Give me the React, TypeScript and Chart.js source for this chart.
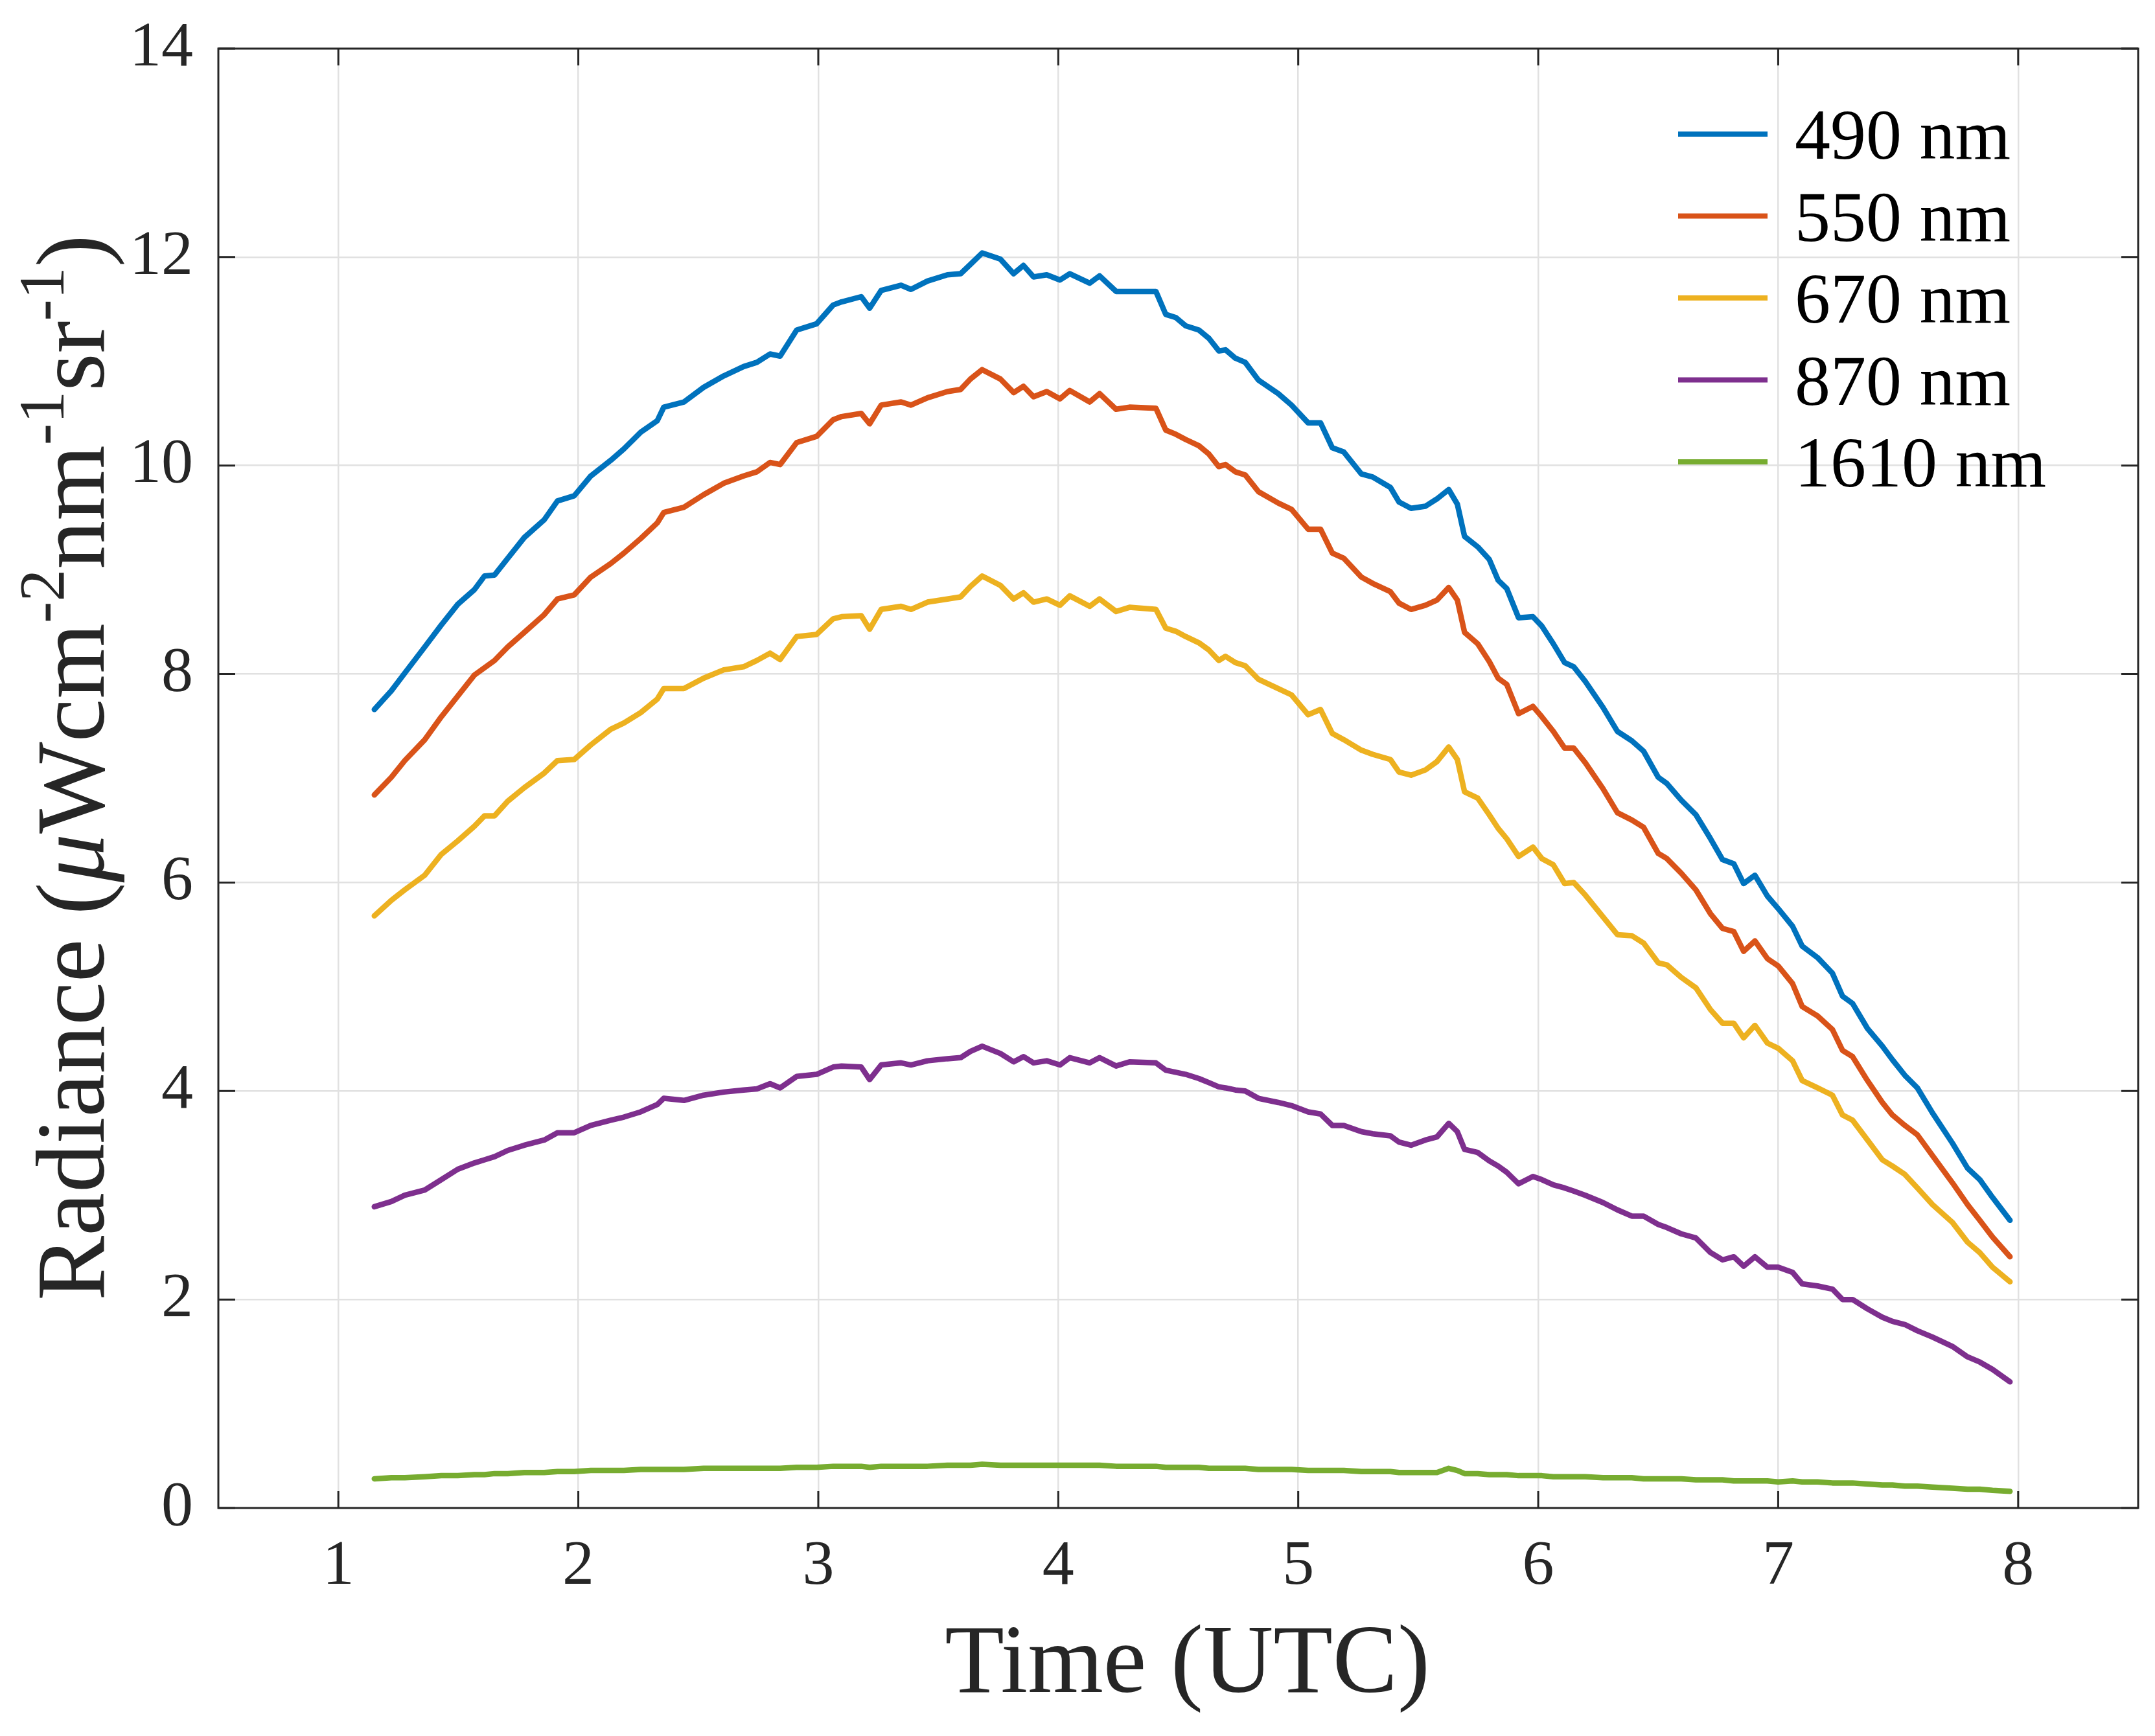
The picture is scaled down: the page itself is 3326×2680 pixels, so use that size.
import React, { useEffect, useRef } from "react";
import { Chart, registerables } from "chart.js";

Chart.register(...registerables);

// ---------- data ----------
const timeUTC = [
  1.150, 1.221, 1.277, 1.360, 1.429, 1.498, 1.567, 1.609, 1.651, 1.706,
  1.775, 1.858, 1.913, 1.983, 2.052, 2.135, 2.190, 2.260, 2.329, 2.356,
  2.440, 2.522, 2.606, 2.689, 2.744, 2.799, 2.841, 2.910, 2.993, 3.062,
  3.097, 3.179, 3.214, 3.262, 3.345, 3.386, 3.455, 3.538, 3.593, 3.634,
  3.683, 3.759, 3.814, 3.855, 3.897, 3.952, 4.007, 4.048, 4.131, 4.172,
  4.241, 4.297, 4.407, 4.448, 4.490, 4.531, 4.586, 4.628, 4.669, 4.697,
  4.738, 4.779, 4.834, 4.917, 4.972, 5.041,
  5.093, 5.142, 5.190, 5.263, 5.310, 5.384, 5.420, 5.470, 5.530, 5.578,
  5.627, 5.663, 5.693, 5.748, 5.796, 5.833, 5.869, 5.918, 5.978, 6.015,
  6.063, 6.110, 6.148, 6.196, 6.270, 6.330, 6.390, 6.439, 6.500, 6.536,
  6.596, 6.657, 6.718,
  6.768, 6.815, 6.856, 6.903, 6.955, 7.000, 7.060, 7.100, 7.164, 7.226,
  7.268, 7.310, 7.372, 7.434, 7.476, 7.528, 7.580, 7.643, 7.726, 7.789,
  7.840, 7.893, 7.966,
];

const rad490 = [
  7.66, 7.84, 8.01, 8.26, 8.47, 8.67, 8.81, 8.94, 8.95, 9.11,
  9.31, 9.48, 9.66, 9.71, 9.90, 10.05, 10.16, 10.32, 10.43, 10.56,
  10.61, 10.75, 10.86, 10.95, 10.99, 11.07, 11.05, 11.30, 11.36, 11.54,
  11.57, 11.62, 11.51, 11.68, 11.73, 11.69, 11.77, 11.83, 11.84, 11.93,
  12.04, 11.98, 11.84, 11.92, 11.81, 11.83, 11.78, 11.84, 11.75, 11.82,
  11.67, 11.67, 11.67, 11.45, 11.42, 11.34, 11.30, 11.22, 11.10, 11.11,
  11.03, 10.99, 10.82, 10.69, 10.58, 10.41,
  10.41, 10.17, 10.13, 9.92, 9.89, 9.79, 9.65, 9.59, 9.61, 9.68,
  9.77, 9.63, 9.32, 9.22, 9.10, 8.90, 8.82, 8.54, 8.55, 8.46,
  8.29, 8.11, 8.07, 7.93, 7.68, 7.45, 7.36, 7.26, 7.01, 6.95,
  6.79, 6.65, 6.42,
  6.22, 6.18, 5.99, 6.07, 5.87, 5.75, 5.58, 5.39, 5.28, 5.13,
  4.91, 4.84, 4.60, 4.43, 4.30, 4.15, 4.03, 3.79, 3.50, 3.26,
  3.15, 2.98, 2.76,
];

const rad550 = [
  6.84, 7.01, 7.17, 7.37, 7.59, 7.79, 7.99, 8.06, 8.13, 8.26,
  8.40, 8.57, 8.72, 8.76, 8.93, 9.06, 9.16, 9.30, 9.45, 9.55,
  9.60, 9.72, 9.83, 9.90, 9.94, 10.03, 10.01, 10.22, 10.28, 10.44,
  10.47, 10.50, 10.40, 10.58, 10.61, 10.58, 10.65, 10.71, 10.73, 10.83,
  10.92, 10.83, 10.70, 10.76, 10.66, 10.71, 10.64, 10.72, 10.61, 10.69,
  10.54, 10.56, 10.55, 10.34, 10.30, 10.25, 10.19, 10.11, 9.99, 10.01,
  9.94, 9.91, 9.75, 9.64, 9.58, 9.39,
  9.39, 9.16, 9.11, 8.93, 8.87, 8.79, 8.68, 8.62, 8.66, 8.71,
  8.83, 8.71, 8.40, 8.29, 8.12, 7.96, 7.90, 7.62, 7.69, 7.59,
  7.45, 7.29, 7.29, 7.15, 6.90, 6.67, 6.60, 6.53, 6.28, 6.23,
  6.09, 5.93, 5.70,
  5.56, 5.53, 5.34, 5.44, 5.27, 5.20, 5.03, 4.81, 4.72, 4.59,
  4.39, 4.33, 4.10, 3.89, 3.77, 3.67, 3.58, 3.38, 3.12, 2.91,
  2.76, 2.60, 2.41,
];

const rad670 = [
  5.68, 5.83, 5.93, 6.07, 6.27, 6.40, 6.54, 6.64, 6.64, 6.78,
  6.91, 7.05, 7.17, 7.18, 7.32, 7.47, 7.53, 7.63, 7.76, 7.86,
  7.86, 7.96, 8.04, 8.07, 8.13, 8.20, 8.14, 8.36, 8.38, 8.53,
  8.55, 8.56, 8.43, 8.62, 8.65, 8.62, 8.69, 8.72, 8.74, 8.84,
  8.94, 8.85, 8.72, 8.78, 8.69, 8.72, 8.66, 8.75, 8.65, 8.72,
  8.60, 8.64, 8.62, 8.44, 8.41, 8.36, 8.30, 8.23, 8.13, 8.17,
  8.11, 8.08, 7.95, 7.86, 7.80, 7.61,
  7.66, 7.43, 7.37, 7.27, 7.23, 7.18, 7.06, 7.03, 7.08, 7.16,
  7.30, 7.18, 6.87, 6.81, 6.65, 6.52, 6.42, 6.25, 6.34, 6.23,
  6.17, 5.99, 6.00, 5.88, 5.67, 5.50, 5.49, 5.42, 5.23, 5.21,
  5.09, 4.99, 4.78,
  4.65, 4.65, 4.51, 4.63, 4.46, 4.41, 4.29, 4.10, 4.03, 3.96,
  3.77, 3.72, 3.53, 3.34, 3.28, 3.20, 3.07, 2.91, 2.74, 2.55,
  2.45, 2.31, 2.17,
];

const rad870 = [
  2.89, 2.94, 3.00, 3.05, 3.15, 3.25, 3.31, 3.34, 3.37, 3.43,
  3.48, 3.53, 3.60, 3.60, 3.67, 3.72, 3.75, 3.80, 3.87, 3.93,
  3.91, 3.96, 3.99, 4.01, 4.02, 4.07, 4.03, 4.14, 4.16, 4.23,
  4.24, 4.23, 4.11, 4.25, 4.27, 4.25, 4.29, 4.31, 4.32, 4.38,
  4.43, 4.36, 4.28, 4.33, 4.27, 4.29, 4.25, 4.32, 4.27, 4.32,
  4.24, 4.28, 4.27, 4.20, 4.18, 4.16, 4.12, 4.08, 4.04, 4.03,
  4.01, 4.00, 3.93, 3.89, 3.86, 3.80,
  3.78, 3.67, 3.67, 3.61, 3.59, 3.57, 3.51, 3.48, 3.53, 3.56,
  3.69, 3.61, 3.44, 3.41, 3.33, 3.28, 3.22, 3.11, 3.18, 3.15,
  3.10, 3.07, 3.04, 3.00, 2.93, 2.86, 2.80, 2.80, 2.72, 2.69,
  2.63, 2.59, 2.45,
  2.38, 2.41, 2.32, 2.41, 2.31, 2.31, 2.26, 2.15, 2.13, 2.10,
  2.00, 2.00, 1.91, 1.83, 1.79, 1.76, 1.70, 1.64, 1.55, 1.45,
  1.40, 1.33, 1.21,
];

const rad1610 = [
  0.28, 0.29, 0.29, 0.30, 0.31, 0.31, 0.32, 0.32, 0.33, 0.33,
  0.34, 0.34, 0.35, 0.35, 0.36, 0.36, 0.36, 0.37, 0.37, 0.37,
  0.37, 0.38, 0.38, 0.38, 0.38, 0.38, 0.38, 0.39, 0.39, 0.40,
  0.40, 0.40, 0.39, 0.40, 0.40, 0.40, 0.40, 0.41, 0.41, 0.41,
  0.42, 0.41, 0.41, 0.41, 0.41, 0.41, 0.41, 0.41, 0.41, 0.41,
  0.40, 0.40, 0.40, 0.39, 0.39, 0.39, 0.39, 0.38, 0.38, 0.38,
  0.38, 0.38, 0.37, 0.37, 0.37, 0.36,
  0.36, 0.36, 0.36, 0.35, 0.35, 0.35, 0.34, 0.34, 0.34, 0.34,
  0.38, 0.36, 0.33, 0.33, 0.32, 0.32, 0.32, 0.31, 0.31, 0.31,
  0.30, 0.30, 0.30, 0.30, 0.29, 0.29, 0.29, 0.28, 0.28, 0.28,
  0.28, 0.27, 0.27,
  0.27, 0.26, 0.26, 0.26, 0.26, 0.25, 0.26, 0.25, 0.25, 0.24,
  0.24, 0.24, 0.23, 0.22, 0.22, 0.21, 0.21, 0.20, 0.19, 0.18,
  0.18, 0.17, 0.16,
];

const seriesLabels = ["490 nm", "550 nm", "670 nm", "870 nm", "1610 nm"];
const seriesColors = ["#0072BD", "#D95319", "#EDB120", "#7E2F8E", "#77AC30"];
const seriesValues = [rad490, rad550, rad670, rad870, rad1610];

const xTickValues = [1, 2, 3, 4, 5, 6, 7, 8];
const yTickValues = [0, 2, 4, 6, 8, 10, 12, 14];

const xTitle = "Time (UTC)";

// ---------- styling ----------
const W = 3326;
const H = 2680;
const PLOT_LEFT = 337;
const PLOT_TOP = 75;
const PLOT_RIGHT = 3300;
const PLOT_BOTTOM = 2328;
const FONT = "'Liberation Serif', 'Times New Roman', serif";
const TEXT = "#262626";
const AXIS = "#262626";
const GRID = "#e1e1e1";

const framePlugin = {
  id: "matlabFrame",
  afterDatasetsDraw(chart: any) {
    const { ctx, chartArea, scales } = chart;
    const { left, right, top, bottom } = chartArea;
    const x = scales.x;
    const y = scales.y;
    ctx.save();
    ctx.strokeStyle = AXIS;
    ctx.lineWidth = 3;
    const tl = 26;
    ctx.beginPath();
    xTickValues.forEach((v) => {
      const px = x.getPixelForValue(v);
      ctx.moveTo(px, bottom);
      ctx.lineTo(px, bottom - tl);
      ctx.moveTo(px, top);
      ctx.lineTo(px, top + tl);
    });
    yTickValues.forEach((v) => {
      const py = y.getPixelForValue(v);
      ctx.moveTo(left, py);
      ctx.lineTo(left + tl, py);
      ctx.moveTo(right, py);
      ctx.lineTo(right - tl, py);
    });
    ctx.stroke();
    ctx.strokeRect(left, top, right - left, bottom - top);
    ctx.restore();
  },
  afterDraw(chart: any) {
    const { ctx, chartArea } = chart;
    const { left, right, top } = chartArea;
    ctx.save();

    // legend (inside, top-right, no box)
    const lineX0 = right - 710;
    const lineX1 = right - 572;
    const textX = right - 530;
    const row0 = top + 132;
    const rowGap = 126.5;
    ctx.font = `110px ${FONT}`;
    ctx.textAlign = "left";
    ctx.textBaseline = "alphabetic";
    chart.data.datasets.forEach((ds: any, i: number) => {
      const yy = row0 + i * rowGap;
      ctx.strokeStyle = ds.borderColor;
      ctx.lineWidth = 8;
      ctx.lineCap = "butt";
      ctx.beginPath();
      ctx.moveTo(lineX0, yy);
      ctx.lineTo(lineX1, yy);
      ctx.stroke();
      ctx.fillStyle = "#000";
      ctx.fillText(ds.label, textX, yy + 38);
    });

    // x title
    ctx.fillStyle = TEXT;
    ctx.font = `150px ${FONT}`;
    ctx.textAlign = "center";
    ctx.textBaseline = "alphabetic";
    ctx.fillText(xTitle, (left + right) / 2 + 14, 2612);

    // y title with superscripts
    const mainF = `150px ${FONT}`;
    const italF = `italic 150px ${FONT}`;
    const supF = `100px ${FONT}`;
    const segs = [
      { t: "Radiance (", f: mainF, dy: 0 },
      { t: "\u03bc", f: italF, dy: 0 },
      { t: "Wcm", f: mainF, dy: 0 },
      { t: "-2", f: supF, dy: -62 },
      { t: "nm", f: mainF, dy: 0 },
      { t: "-1", f: supF, dy: -62 },
      { t: "sr", f: mainF, dy: 0 },
      { t: "-1", f: supF, dy: -62 },
      { t: ")", f: mainF, dy: 0 },
    ];
    let total = 0;
    const widths = segs.map((s) => {
      ctx.font = s.f;
      const w = ctx.measureText(s.t).width;
      total += w;
      return w;
    });
    const cx = 160;
    const cy = 1185;
    ctx.translate(cx, cy);
    ctx.rotate(-Math.PI / 2);
    ctx.textAlign = "left";
    let pos = -total / 2;
    segs.forEach((s, i) => {
      ctx.font = s.f;
      ctx.fillText(s.t, pos, s.dy);
      pos += widths[i];
    });
    ctx.restore();
  },
};

export default function App() {
  const canvasRef = useRef<HTMLCanvasElement | null>(null);

  useEffect(() => {
    const canvas = canvasRef.current;
    if (!canvas) return;
    const datasets = seriesValues.map((vals, si) => ({
      label: seriesLabels[si],
      data: vals.map((v, i) => ({ x: timeUTC[i], y: v })),
      borderColor: seriesColors[si],
      backgroundColor: seriesColors[si],
      borderWidth: 8.5,
      pointRadius: 0,
      tension: 0,
      fill: false,
      borderJoinStyle: "round" as const,
      borderCapStyle: "round" as const,
    }));

    const chart = new Chart(canvas, {
      type: "line",
      data: { datasets },
      options: {
        animation: false,
        responsive: false,
        devicePixelRatio: 1,
        layout: {
          padding: { top: PLOT_TOP, right: W - PLOT_RIGHT, left: 0, bottom: 0 },
        },
        plugins: {
          legend: { display: false },
          tooltip: { enabled: false },
          title: { display: false },
        },
        scales: {
          x: {
            type: "linear",
            min: 0.5,
            max: 8.5,
            afterBuildTicks: (s: any) => {
              s.ticks = xTickValues.map((v) => ({ value: v }));
            },
            afterFit: (s: any) => {
              s.height = H - PLOT_BOTTOM;
              s.paddingLeft = 0;
              s.paddingRight = 0;
            },
            grid: { color: GRID, lineWidth: 2.5, drawTicks: false },
            border: { display: false },
            ticks: {
              color: TEXT,
              font: { family: FONT, size: 98 },
              padding: 32,
              maxRotation: 0,
              autoSkip: false,
            },
          },
          y: {
            type: "linear",
            min: 0,
            max: 14,
            afterBuildTicks: (s: any) => {
              s.ticks = yTickValues.map((v) => ({ value: v }));
            },
            afterFit: (s: any) => {
              s.width = PLOT_LEFT;
              s.paddingTop = 0;
              s.paddingBottom = 0;
            },
            grid: { color: GRID, lineWidth: 2.5, drawTicks: false },
            border: { display: false },
            ticks: {
              color: TEXT,
              font: { family: FONT, size: 98 },
              padding: 39,
              autoSkip: false,
            },
          },
        },
      },
      plugins: [framePlugin],
    });
    return () => chart.destroy();
  }, []);

  return (
    <div
      style={{
        position: "absolute",
        left: 0,
        top: 0,
        width: W,
        height: H,
        background: "#ffffff",
      }}
    >
      <canvas
        ref={canvasRef}
        width={W}
        height={H}
        style={{ width: W, height: H, display: "block" }}
      />
    </div>
  );
}
